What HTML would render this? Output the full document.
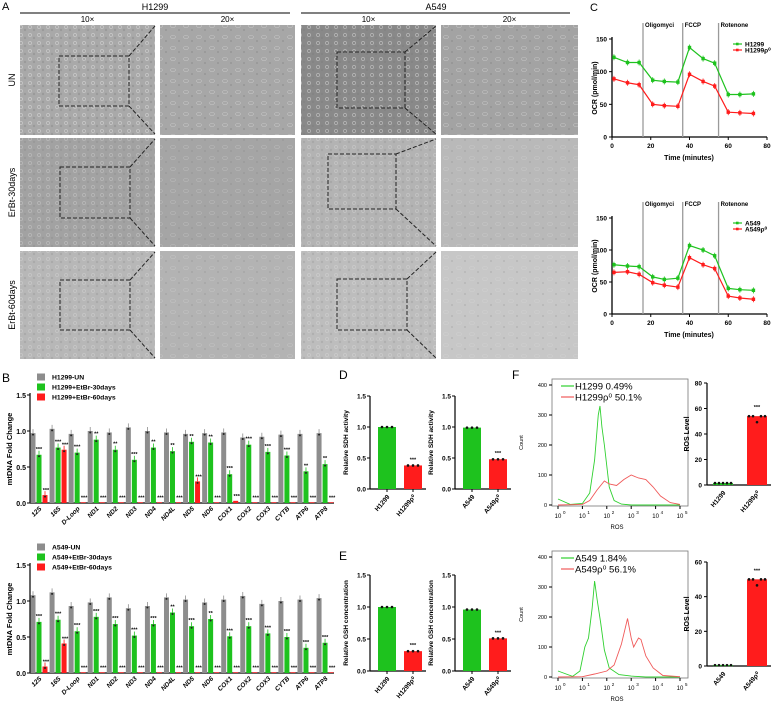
<!DOCTYPE html>
<html><head><meta charset="utf-8"><style>
html,body{margin:0;padding:0;background:#fff;}
svg{display:block;font-family:"Liberation Sans",Arial,sans-serif;}
</style></head><body>
<svg id="fig" width="777" height="708" viewBox="0 0 777 708" xmlns="http://www.w3.org/2000/svg">
<defs>
<pattern id="cellsA" width="9" height="8" patternUnits="userSpaceOnUse"><circle cx="3" cy="3" r="1.6" fill="none" stroke="#e6e6e6" stroke-width="0.6" opacity="0.7"/><circle cx="7" cy="6" r="1.2" fill="#777" opacity="0.35"/></pattern>
<pattern id="cellsB" width="13" height="11" patternUnits="userSpaceOnUse"><ellipse cx="4" cy="4" rx="2.5" ry="1.5" fill="none" stroke="#e0e0e0" stroke-width="0.6" opacity="0.6"/><circle cx="10" cy="8" r="1" fill="#666" opacity="0.3"/></pattern>
</defs>
<text x="2" y="10" font-size="11">A</text>
<text x="590" y="11" font-size="11">C</text>
<text x="2" y="382" font-size="12">B</text>
<text x="339" y="379" font-size="12">D</text>
<text x="339" y="560" font-size="12">E</text>
<text x="512" y="379" font-size="12">F</text>
<g id="panelA"></g>
<g id="panelC"></g>
<g id="panelB"></g>
<g id="panelD"></g>
<g id="panelF"></g>
</svg>
<script>
const NS="http://www.w3.org/2000/svg";
function mk(parent,tag,attrs,txt){const e=document.createElementNS(NS,tag);for(const k in attrs)e.setAttribute(k,attrs[k]);if(txt!==undefined)e.textContent=txt;parent.appendChild(e);return e;}
const GREEN="#1ec21e", RED="#ff1c1c", GRAY="#8d8d8d";

/* ---------- Panel A ---------- */
const imgCols=[[20,155],[160,295],[301,436],[441,578]];
const imgRows=[[25,135],[138,247],[251,359]];
const imgFill=[["#a9a9a9","#a7a7a7","#898989","#a3a3a3"],["#a2a2a2","#a5a5a5","#b3b3b3","#b9b9b9"],["#b7b7b7","#b3b3b3","#bdbdbd","#c7c7c7"]];
const rowLabels=["UN","ErBt-30days","ErBt-60days"];
const dashBoxes=[[[59,56,129,106],[337,52,405,108]],[[60,167,130,218],[328,154,396,209]],[[60,280,130,330],[337,279,407,330]]];
const A=document.getElementById('panelA');
let t;
t=mk(A,'line',{x1:20,y1:13,x2:290,y2:13,stroke:'#000','stroke-width':1});

t=mk(A,'line',{x1:301,y1:13,x2:570,y2:13,stroke:'#000','stroke-width':1});

t=mk(A,'text',{x:155,y:10,'font-size':9,'text-anchor':'middle'},'H1299');

t=mk(A,'text',{x:436,y:10,'font-size':9,'text-anchor':'middle'},'A549');

["10×","20×","10×","20×"].forEach((s,i)=>{const c=imgCols[i];
 const e=mk(A,'text',{x:(c[0]+c[1])/2,y:22,'font-size':8,'text-anchor':'middle'},s);
 });
imgRows.forEach((r,ri)=>{
 const lab=mk(A,'text',{transform:`translate(15,${(r[0]+r[1])/2}) rotate(-90)`,'font-size':9,'text-anchor':'middle'},rowLabels[ri]);
 
 imgCols.forEach((c,ci)=>{
  const im=mk(A,'rect',{x:c[0],y:r[0],width:c[1]-c[0],height:r[1]-r[0],fill:imgFill[ri][ci]});
  
  const tex=mk(A,'rect',{x:c[0],y:r[0],width:c[1]-c[0],height:r[1]-r[0],fill:(ci%2? 'url(#cellsB)':'url(#cellsA)'),opacity:ri==0?0.9:0.6});
  
 });
 dashBoxes[ri].forEach((b,bi)=>{
  const colR=imgCols[bi*2][1];
  const bx=mk(A,'rect',{x:b[0],y:b[1],width:b[2]-b[0],height:b[3]-b[1],fill:'none',stroke:'#222','stroke-width':1,'stroke-dasharray':'4,2'});
  
  const l1=mk(A,'line',{x1:b[2],y1:b[1],x2:colR,y2:r[0]+1,stroke:'#222','stroke-width':1,'stroke-dasharray':'4,2'});
  
  const l2=mk(A,'line',{x1:b[2],y1:b[3],x2:colR,y2:r[1]-1,stroke:'#222','stroke-width':1,'stroke-dasharray':'4,2'});
  
 });
});

/* ---------- Panel C: OCR ---------- */
const ocrTimes=[1,8,14,21,27,34,40,47,53,60,66,73];
const h1299OCR=[122,114,114,87,85,84,137,120,113,65,65,66];
const h1299rOCR=[89,83,80,50,48,47,96,85,78,38,37,36];
const a549OCR=[77,75,74,58,54,56,107,100,91,40,38,37];
const a549rOCR=[65,66,62,49,45,42,88,77,71,28,25,23];
const ocrYTicks=[0,50,100,150];
const ocrXTicks=[0,20,40,60,80];
const injTimes=[16,36.5,55];
const injLabels=["Oligomyci","FCCP","Rotenone"];
const C=document.getElementById('panelC');
function ocrChart(y0,yTop,g,r,names){
 const xs=v=>612+v*155/80, ys=v=>y0-v*(y0-yTop)/150;
 let e;
 e=mk(C,'line',{x1:612,y1:y0,x2:612,y2:yTop-2,stroke:'#000','stroke-width':1.3});
 
 e=mk(C,'line',{x1:612,y1:y0,x2:767,y2:y0,stroke:'#000','stroke-width':1.3});
 
 ocrYTicks.forEach(v=>{e=mk(C,'line',{x1:609,y1:ys(v),x2:612,y2:ys(v),stroke:'#000'});
  
  e=mk(C,'text',{x:607,y:ys(v)+2.5,'font-size':6.5,'font-weight':'bold','text-anchor':'end'},v);
  });
 ocrXTicks.forEach(v=>{e=mk(C,'line',{x1:xs(v),y1:y0,x2:xs(v),y2:y0+3,stroke:'#000'});
  
  e=mk(C,'text',{x:xs(v),y:y0+11,'font-size':6.5,'font-weight':'bold','text-anchor':'middle'},v);
  });
 e=mk(C,'text',{x:689,y:y0+23,'font-size':7,'font-weight':'bold','text-anchor':'middle'},'Time (minutes)');
 
 e=mk(C,'text',{transform:`translate(597,${(y0+yTop)/2}) rotate(-90)`,'font-size':7,'font-weight':'bold','text-anchor':'middle'},'OCR (pmol/min)');
 
 injTimes.forEach((v,i)=>{e=mk(C,'line',{x1:xs(v),y1:yTop-16,x2:xs(v),y2:y0,stroke:'#9a9a9a','stroke-width':1.3});
  
  e=mk(C,'text',{x:xs(v)+2,y:yTop-12,'font-size':6,'font-weight':'bold'},injLabels[i]);
  });
 [[g,GREEN],[r,RED]].forEach(([arr,col],si)=>{
  e=mk(C,'polyline',{points:arr.map((v,i)=>xs(ocrTimes[i])+','+ys(v)).join(' '),fill:'none',stroke:col,'stroke-width':1.2});
  
  arr.forEach((v,i)=>{e=mk(C,'rect',{x:xs(ocrTimes[i])-1.7,y:ys(v)-1.7,width:3.4,height:3.4,fill:col});
   
   const eb=mk(C,'line',{x1:xs(ocrTimes[i]),y1:ys(v)-3,x2:xs(ocrTimes[i]),y2:ys(v)+3,stroke:col,'stroke-width':0.8});
   });
  const ly=yTop+5+si*6;
  e=mk(C,'line',{x1:733,y1:ly,x2:742,y2:ly,stroke:col,'stroke-width':1.2});
  
  e=mk(C,'rect',{x:736,y:ly-1.3,width:2.6,height:2.6,fill:col});
  
  e=mk(C,'text',{x:745,y:ly+2.5,'font-size':6.5,'font-weight':'bold'},names[si]);
  
 });
}
ocrChart(137,39,h1299OCR,h1299rOCR,["H1299","H1299ρ⁰"]);
ocrChart(314,218,a549OCR,a549rOCR,["A549","A549ρ⁰"]);

/* ---------- Panel B ---------- */
const genes=["12S","16S","D-Loop","ND1","ND2","ND3","ND4","ND4L","ND5","ND6","COX1","COX2","COX3","CYTB","ATP6","ATP8"];
const h1299UN=[0.97,1.03,0.96,1.0,0.98,1.05,1.0,0.98,0.96,0.97,0.98,0.91,0.92,0.95,0.96,0.97];
const h1299E30=[0.67,0.77,0.70,0.88,0.74,0.60,0.77,0.72,0.85,0.84,0.40,0.81,0.71,0.66,0.44,0.54];
const h1299E60=[0.11,0.74,0.01,0.01,0.01,0.01,0.01,0.01,0.30,0.01,0.03,0.01,0.01,0.01,0.01,0.01];
const h1299Sig30=["***","***","***","**","**","***","**","**","**","**","***","***","***","***","**","**"];
const a549UN=[1.08,1.12,0.93,0.98,1.05,0.90,0.93,1.05,1.02,0.98,1.02,1.07,0.96,1.0,1.02,1.04];
const a549E30=[0.71,0.74,0.58,0.78,0.68,0.52,0.68,0.84,0.65,0.75,0.51,0.65,0.55,0.50,0.35,0.42];
const a549E60=[0.09,0.41,0.01,0.01,0.01,0.01,0.01,0.01,0.01,0.01,0.01,0.01,0.01,0.01,0.01,0.01];
const a549Sig30=["***","***","***","***","***","***","***","**","***","**","***","***","***","***","***","***"];
const bTicks=[0.0,0.5,1.0,1.5];
const B=document.getElementById('panelB');
function mtChart(y0,un,e30,e60,sig,legendY,legNames){
 const ys=v=>y0-v*72, gx=i=>33+i*19.07;
 let e;
 e=mk(B,'line',{x1:30,y1:y0,x2:30,y2:y0-110,stroke:'#000','stroke-width':1.2});
 
 e=mk(B,'line',{x1:30,y1:y0,x2:334,y2:y0,stroke:'#000','stroke-width':1.2});
 
 bTicks.forEach(v=>{e=mk(B,'line',{x1:27,y1:ys(v),x2:30,y2:ys(v),stroke:'#000'});
  
  e=mk(B,'text',{x:26,y:ys(v)+3,'font-size':7,'font-weight':'bold','text-anchor':'end'},v.toFixed(1));
  });
 e=mk(B,'text',{transform:`translate(12,${y0-54}) rotate(-90)`,'font-size':7.5,'font-weight':'bold','text-anchor':'middle'},'mtDNA Fold Change');
 
 genes.forEach((g,i)=>{
  [[un[i],GRAY,0],[e30[i],GREEN,6],[e60[i],RED,12]].forEach(([v,col,off],k)=>{
   const cx=gx(i)+off;
   e=mk(B,'rect',{x:cx-2.5,y:ys(v),width:5,height:y0-ys(v),fill:col});
   
   if(v>0.05){e=mk(B,'line',{x1:cx,y1:ys(v)-4,x2:cx,y2:ys(v),stroke:col,'stroke-width':0.8});
    
    e=mk(B,'circle',{cx:cx,cy:ys(v)+1.5,r:1,fill:'#222'});
    }
  });
  e=mk(B,'text',{x:gx(i)+6,y:ys(e30[i])-4,'font-size':5.5,'font-weight':'bold','text-anchor':'middle'},sig[i]);
  
  e=mk(B,'text',{x:gx(i)+13,y:ys(e60[i])-3,'font-size':5.5,'font-weight':'bold','text-anchor':'middle'},'***');
  
  e=mk(B,'text',{transform:`translate(${gx(i)+9},${y0+6}) rotate(-45)`,'font-size':6.5,'font-weight':'bold','font-style':'italic','text-anchor':'end'},g);
  
 });
 [GRAY,GREEN,RED].forEach((col,k)=>{
  e=mk(B,'rect',{x:37,y:legendY+k*10-3.5,width:8,height:7,fill:col});
  
  e=mk(B,'text',{x:52,y:legendY+k*10+2.5,'font-size':6.8,'font-weight':'bold'},legNames[k]);
  
 });
}
mtChart(503,h1299UN,h1299E30,h1299E60,h1299Sig30,377,["H1299-UN","H1299+EtBr-30days","H1299+EtBr-60days"]);
mtChart(673,a549UN,a549E30,a549E60,a549Sig30,547,["A549-UN","A549+EtBr-30days","A549+EtBr-60days"]);

/* ---------- Panels D / E ---------- */
const sdhH1299=[1.0,0.38];
const sdhA549=[0.99,0.48];
const gshH1299=[1.0,0.31];
const gshA549=[0.96,0.51];
const smallTicks=[0.0,0.5,1.0,1.5];
const D=document.getElementById('panelD');
function smallChart(ax,y0,y1,vals,cats,title){
 const ys=v=>y0-v*(y0-y1);
 let e;
 e=mk(D,'line',{x1:ax,y1:y0,x2:ax,y2:ys(1.5),stroke:'#000','stroke-width':1.2});
 
 e=mk(D,'line',{x1:ax,y1:y0,x2:ax+56,y2:y0,stroke:'#000','stroke-width':1.2});
 
 smallTicks.forEach(v=>{e=mk(D,'line',{x1:ax-3,y1:ys(v),x2:ax,y2:ys(v),stroke:'#000'});
  
  e=mk(D,'text',{x:ax-4,y:ys(v)+2.5,'font-size':6.5,'font-weight':'bold','text-anchor':'end'},v.toFixed(1));
  });
 e=mk(D,'text',{transform:`translate(${ax-22},${(y0+ys(1.5))/2}) rotate(-90)`,'font-size':6.5,'font-weight':'bold','text-anchor':'middle'},title);
 
 vals.forEach((v,i)=>{
  const bx=ax+8+i*26, col=i?RED:GREEN;
  e=mk(D,'rect',{x:bx,y:ys(v),width:18,height:y0-ys(v),fill:col});
  
  for(let k=0;k<3;k++){e=mk(D,'circle',{cx:bx+4+k*5,cy:ys(v),r:1.3,fill:'#111'});
   }
  if(i){e=mk(D,'text',{x:bx+9,y:ys(v)-4,'font-size':5.5,'font-weight':'bold','text-anchor':'middle'},'***');
   }
  e=mk(D,'line',{x1:bx+9,y1:y0,x2:bx+9,y2:y0+3,stroke:'#000'});
  
  e=mk(D,'text',{transform:`translate(${bx+12},${y0+8}) rotate(-50)`,'font-size':6.5,'font-weight':'bold','text-anchor':'end'},cats[i]);
  
 });
}
smallChart(370,489,427,sdhH1299,["H1299","H1299ρ⁰"],"Relative SDH activity");
smallChart(455,489,427,sdhA549,["A549","A549ρ⁰"],"Relative SDH activity");
smallChart(370,671,607,gshH1299,["H1299","H1299ρ⁰"],"Relative GSH concentration");
smallChart(455,671,607,gshA549,["A549","A549ρ⁰"],"Relative GSH concentration");

/* ---------- Panel F ---------- */
const histLogX1=[0,0.5,1,1.3,1.5,1.65,1.72,1.8,1.9,2.1,2.3,2.6,3,5];
const histH1299=[20,2,5,40,150,300,330,260,200,60,15,3,0,0];
const histLogX2=[0,1,1.3,1.6,1.9,2.1,2.4,2.7,3,3.3,3.6,3.9,4.2,4.6,5];
const histH1299r=[0,2,15,50,80,70,65,85,100,90,85,60,30,8,2];
const histLogX3=[0,0.6,0.9,1.1,1.25,1.4,1.5,1.6,1.75,1.9,2.1,2.5,3,3.6,5];
const histA549=[20,2,20,100,130,230,320,260,180,90,30,8,3,0,0];
const histLogX4=[0,1,1.5,2,2.3,2.6,2.85,3,3.1,3.3,3.4,3.6,3.9,4.3,5];
const histA549r=[0,1,10,20,40,110,195,130,100,130,125,70,30,5,1];
const countTicks=[0,100,200,300,400];
const decades=[0,1,2,3,4,5];
const rosH1299=[1.5,54];
const rosA549=[0.5,50];
const F=document.getElementById('panelF');
function histo(top,bot,lx1,c1,lx2,c2,leg){
 const xs=v=>558+v*24.4, ys=v=>bot-1-v*(bot-top-7)/400;
 let e;
 e=mk(F,'rect',{x:552,y:top,width:136,height:bot-top,fill:'none',stroke:'#777','stroke-width':0.8});
 
 countTicks.forEach(v=>{e=mk(F,'line',{x1:549,y1:ys(v),x2:552,y2:ys(v),stroke:'#000'});
  
  e=mk(F,'text',{x:547,y:ys(v)+2,'font-size':5.5,'text-anchor':'end'},v);
  });
 decades.forEach(d=>{e=mk(F,'line',{x1:xs(d),y1:bot,x2:xs(d),y2:bot+3,stroke:'#000'});
  
  e=mk(F,'text',{x:xs(d),y:bot+12,'font-size':6,'text-anchor':'middle'},'10');
  
  e=mk(F,'text',{x:xs(d)+5,y:bot+8,'font-size':4.5},d);
  });
 e=mk(F,'text',{x:617,y:bot+23,'font-size':6,'text-anchor':'middle'},'ROS');
 
 e=mk(F,'text',{transform:`translate(523,${(top+bot)/2}) rotate(-90)`,'font-size':5.5,'text-anchor':'middle'},'Count');
 
 e=mk(F,'polyline',{points:lx1.map((v,i)=>xs(v)+','+ys(c1[i])).join(' '),fill:'none',stroke:'#2fd02f','stroke-width':0.9});
 
 e=mk(F,'polyline',{points:lx2.map((v,i)=>xs(v)+','+ys(c2[i])).join(' '),fill:'none',stroke:'#f05a5a','stroke-width':0.9});
 
 leg.forEach((s,k)=>{const ly=top+7+k*11;
  e=mk(F,'line',{x1:561,y1:ly,x2:574,y2:ly,stroke:k?'#f05a5a':'#2fd02f','stroke-width':1.2});
  
  e=mk(F,'text',{x:575,y:ly+3.5,'font-size':9.5},s);
  });
}
histo(379,506,histLogX1,histH1299,histLogX2,histH1299r,["H1299  0.49%","H1299ρ⁰  50.1%"]);
histo(551,678,histLogX3,histA549,histLogX4,histA549r,["A549    1.84%","A549ρ⁰  56.1%"]);
function rosBar(y0,yTopVal,yTopPx,ticks,vals,cats){
 const ys=v=>y0-v*(y0-yTopPx)/yTopVal;
 let e;
 e=mk(F,'line',{x1:707,y1:y0,x2:707,y2:yTopPx,stroke:'#000','stroke-width':1.2});
 
 e=mk(F,'line',{x1:707,y1:y0,x2:771,y2:y0,stroke:'#000','stroke-width':1.2});
 
 ticks.forEach(v=>{e=mk(F,'line',{x1:704,y1:ys(v),x2:707,y2:ys(v),stroke:'#000'});
  
  e=mk(F,'text',{x:702,y:ys(v)+2.5,'font-size':6.5,'font-weight':'bold','text-anchor':'end'},v);
  });
 e=mk(F,'text',{transform:`translate(689,${(y0+yTopPx)/2}) rotate(-90)`,'font-size':7,'font-weight':'bold','text-anchor':'middle'},'ROS Level');
 
 vals.forEach((v,i)=>{const bx=713+i*34, col=i?RED:GREEN;
  e=mk(F,'rect',{x:bx,y:ys(v),width:20,height:Math.max(1,y0-ys(v)),fill:col});
  
  for(let k=0;k<5;k++){e=mk(F,'circle',{cx:bx+2+k*4,cy:ys(v)+(k==2&&i?6:0),r:1.3,fill:'#111'});
   }
  if(i){e=mk(F,'text',{x:bx+10,y:ys(v)-7,'font-size':5.5,'font-weight':'bold','text-anchor':'middle'},'***');
   }
  e=mk(F,'text',{transform:`translate(${bx+13},${y0+8}) rotate(-50)`,'font-size':6.5,'font-weight':'bold','text-anchor':'end'},cats[i]);
  
 });
}
rosBar(485,80,383,[0,20,40,60,80],rosH1299,["H1299","H1299ρ⁰"]);
rosBar(666,60,562,[0,20,40,60],rosA549,["A549","A549ρ⁰"]);
</script>
</body></html>
